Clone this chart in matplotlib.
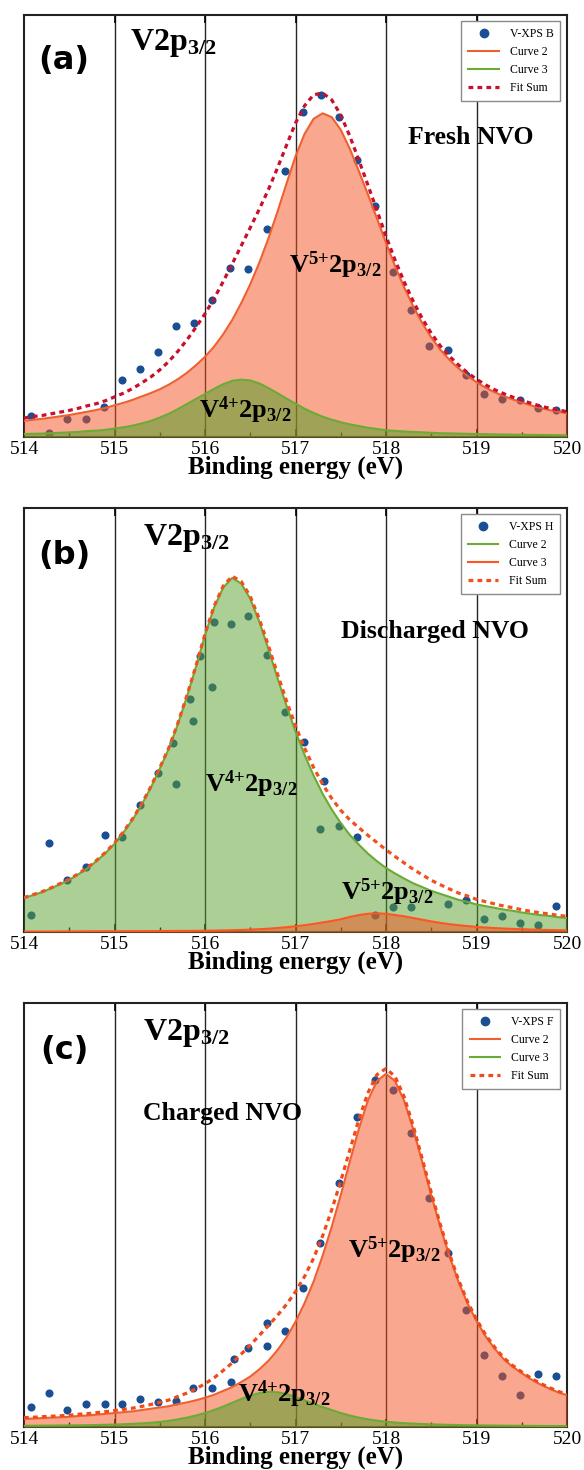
import numpy as np
import matplotlib
matplotlib.use('Agg')
import matplotlib.pyplot as plt
from matplotlib.lines import Line2D
from matplotlib.ticker import MultipleLocator

plt.rcParams['font.family'] = ['Liberation Serif', 'DejaVu Serif']
plt.rcParams['mathtext.fontset'] = 'custom'
plt.rcParams['mathtext.rm'] = 'Liberation Serif:bold'
plt.rcParams['mathtext.bf'] = 'Liberation Serif:bold'
plt.rcParams['mathtext.it'] = 'Liberation Serif:bold:italic'
plt.rcParams['mathtext.default'] = 'rm'

# ---------------- data ----------------
energy = [514.0, 514.1, 514.2, 514.3, 514.4, 514.5, 514.6, 514.7, 514.8, 514.9,
          515.0, 515.1, 515.2, 515.3, 515.4, 515.5, 515.6, 515.7, 515.8, 515.9,
          516.0, 516.1, 516.2, 516.3, 516.4, 516.5, 516.6, 516.7, 516.8, 516.9,
          517.0, 517.1, 517.2, 517.3, 517.4, 517.5, 517.6, 517.7, 517.8, 517.9,
          518.0, 518.1, 518.2, 518.3, 518.4, 518.5, 518.6, 518.7, 518.8, 518.9,
          519.0, 519.1, 519.2, 519.3, 519.4, 519.5, 519.6, 519.7, 519.8, 519.9,
          520.0]

# panel (a) Fresh NVO
a_curve2 = [0.038, 0.041, 0.043, 0.046, 0.049, 0.052, 0.056, 0.060, 0.064, 0.069,
            0.075, 0.081, 0.088, 0.096, 0.104, 0.113, 0.124, 0.137, 0.152, 0.170,
            0.190, 0.214, 0.243, 0.277, 0.317, 0.362, 0.413, 0.470, 0.533, 0.600,
            0.665, 0.718, 0.754, 0.767, 0.758, 0.728, 0.683, 0.630, 0.575, 0.518,
            0.460, 0.405, 0.355, 0.310, 0.270, 0.236, 0.207, 0.183, 0.163, 0.145,
            0.130, 0.117, 0.106, 0.097, 0.089, 0.082, 0.075, 0.069, 0.064, 0.060,
            0.056]
a_curve3 = [0.007, 0.0075, 0.008, 0.009, 0.010, 0.011, 0.012, 0.014, 0.015, 0.017,
            0.020, 0.023, 0.027, 0.032, 0.038, 0.046, 0.055, 0.066, 0.078, 0.090,
            0.102, 0.114, 0.125, 0.133, 0.136, 0.134, 0.127, 0.116, 0.104, 0.091,
            0.079, 0.067, 0.057, 0.048, 0.041, 0.035, 0.030, 0.026, 0.022, 0.019,
            0.016, 0.0145, 0.013, 0.012, 0.011, 0.010, 0.009, 0.0085, 0.008, 0.0075,
            0.007, 0.0066, 0.0062, 0.0058, 0.0055, 0.0052, 0.005, 0.0047, 0.0045, 0.0043,
            0.004]
a_px = [514.08, 514.28, 514.48, 514.68, 514.88, 515.08, 515.28, 515.48, 515.68, 515.88,
        516.08, 516.28, 516.48, 516.68, 516.88, 517.08, 517.28, 517.48, 517.68, 517.88,
        518.08, 518.28, 518.48, 518.68, 518.88, 519.08, 519.28, 519.48, 519.68, 519.88]
a_py = [0.049, 0.010, 0.043, 0.043, 0.071, 0.136, 0.160, 0.201, 0.264, 0.271,
        0.325, 0.401, 0.397, 0.494, 0.631, 0.771, 0.811, 0.759, 0.657, 0.547,
        0.390, 0.300, 0.215, 0.205, 0.146, 0.103, 0.091, 0.087, 0.069, 0.063]

# panel (b) Discharged NVO
b_curve2 = [0.080, 0.087, 0.094, 0.103, 0.113, 0.123, 0.136, 0.150, 0.167, 0.186,
            0.208, 0.235, 0.265, 0.300, 0.340, 0.385, 0.432, 0.490, 0.555, 0.625,
            0.700, 0.765, 0.812, 0.835, 0.822, 0.786, 0.732, 0.668, 0.600, 0.534,
            0.473, 0.418, 0.369, 0.326, 0.289, 0.257, 0.229, 0.206, 0.185, 0.167,
            0.151, 0.138, 0.126, 0.115, 0.106, 0.097, 0.090, 0.083, 0.076, 0.071,
            0.065, 0.061, 0.057, 0.053, 0.050, 0.046, 0.043, 0.040, 0.038, 0.035,
            0.033]
b_curve3 = [0.001, 0.001, 0.001, 0.001, 0.0012, 0.0013, 0.0014, 0.0015, 0.0016, 0.0017,
            0.0018, 0.0019, 0.002, 0.0021, 0.0022, 0.0023, 0.0024, 0.0025, 0.0026, 0.0028,
            0.003, 0.0033, 0.0037, 0.0042, 0.0048, 0.0056, 0.0066, 0.0078, 0.0094, 0.0113,
            0.0135, 0.016, 0.019, 0.0225, 0.026, 0.030, 0.0355, 0.040, 0.043, 0.044,
            0.043, 0.040, 0.037, 0.033, 0.029, 0.025, 0.0215, 0.0185, 0.016, 0.014,
            0.012, 0.0105, 0.0093, 0.0082, 0.0073, 0.0065, 0.0058, 0.0052, 0.0047, 0.0043,
            0.004]
b_px = [514.08, 514.28, 514.48, 514.68, 514.89, 515.08, 515.28, 515.48, 515.65, 515.68,
        515.83, 515.87, 515.95, 516.08, 516.10, 516.29, 516.48, 516.68, 516.88, 517.09,
        517.27, 517.32, 517.48, 517.68, 517.88, 518.08, 518.28, 518.68, 518.88, 519.08,
        519.28, 519.48, 519.68, 519.88]
b_py = [0.039, 0.209, 0.122, 0.154, 0.228, 0.224, 0.299, 0.376, 0.445, 0.350,
        0.549, 0.498, 0.652, 0.577, 0.731, 0.727, 0.746, 0.654, 0.520, 0.449,
        0.244, 0.357, 0.250, 0.223, 0.039, 0.059, 0.059, 0.065, 0.075, 0.031,
        0.038, 0.022, 0.017, 0.061]

# panel (c) Charged NVO
c_curve2 = [0.019, 0.020, 0.021, 0.022, 0.023, 0.024, 0.026, 0.027, 0.029, 0.031,
            0.033, 0.035, 0.037, 0.040, 0.043, 0.046, 0.049, 0.054, 0.058, 0.063,
            0.069, 0.076, 0.085, 0.094, 0.106, 0.119, 0.136, 0.156, 0.181, 0.211,
            0.248, 0.292, 0.343, 0.404, 0.472, 0.547, 0.626, 0.703, 0.770, 0.816,
            0.833, 0.816, 0.770, 0.703, 0.626, 0.547, 0.472, 0.404, 0.343, 0.292,
            0.250, 0.214, 0.185, 0.160, 0.142, 0.127, 0.113, 0.101, 0.091, 0.082,
            0.075]
c_curve3 = [0.003, 0.003, 0.0032, 0.0034, 0.0036, 0.0038, 0.004, 0.0043, 0.0047, 0.0052,
            0.0058, 0.0065, 0.0074, 0.0085, 0.010, 0.012, 0.0145, 0.018, 0.022, 0.027,
            0.033, 0.040, 0.048, 0.057, 0.066, 0.074, 0.080, 0.083, 0.082, 0.078,
            0.071, 0.063, 0.055, 0.047, 0.040, 0.033, 0.027, 0.022, 0.018, 0.015,
            0.0125, 0.0105, 0.009, 0.008, 0.007, 0.0062, 0.0056, 0.005, 0.0046, 0.0042,
            0.0039, 0.0036, 0.0034, 0.0032, 0.003, 0.0028, 0.0026, 0.0025, 0.0024, 0.0023,
            0.0022]
c_px = [514.08, 514.28, 514.48, 514.68, 514.89, 515.08, 515.28, 515.48, 515.68, 515.87,
        516.08, 516.29, 516.32, 516.48, 516.68, 516.68, 516.88, 517.08, 517.27, 517.48,
        517.68, 517.88, 518.08, 518.28, 518.48, 518.68, 518.88, 519.08, 519.28, 519.48,
        519.68, 519.88]
c_py = [0.047, 0.081, 0.041, 0.055, 0.054, 0.055, 0.065, 0.059, 0.061, 0.091,
        0.093, 0.106, 0.161, 0.187, 0.191, 0.246, 0.227, 0.327, 0.435, 0.575,
        0.730, 0.819, 0.795, 0.693, 0.539, 0.411, 0.277, 0.169, 0.120, 0.076,
        0.126, 0.120]

xticks = [514, 515, 516, 517, 518, 519, 520]
gridlines = [515, 516, 517, 518, 519]

# ---------------- style ----------------
DOT = '#1b4f93'
ORANGE_LINE = '#ee6030'
ORANGE_FILL = '#f4511e'
GREEN_LINE = '#6aab36'
GREEN_FILL = '#58a02a'

fig = plt.figure(figsize=(5.84, 14.7), dpi=100)
W, H = 584.0, 1470.0
boxes = [(24, 15, 567, 437), (24, 508, 567, 932), (24, 1003, 567, 1427)]

panels = [
    dict(label='(a)', px=a_px, py=a_py, c2=a_curve2, c3=a_curve3,
         c2col=(ORANGE_LINE, ORANGE_FILL, 0.5), c3col=(GREEN_LINE, GREEN_FILL, 0.55),
         sumcol='#c8102e', leg='V-XPS B', state='Fresh NVO', state_pos=(0.707, 0.694),
         v2p=(0.195, 0.918), v5=(0.488, 0.389), v4=(0.322, 0.045), lab=0.893),
    dict(label='(b)', px=b_px, py=b_py, c2=b_curve2, c3=b_curve3,
         c2col=(GREEN_LINE, GREEN_FILL, 0.5), c3col=('#ff5522', ORANGE_FILL, 0.5),
         sumcol='#f2501e', leg='V-XPS H', state='Discharged NVO', state_pos=(0.584, 0.693),
         v2p=(0.219, 0.913), v5=(0.584, 0.075), v4=(0.333, 0.33), lab=0.889),
    dict(label='(c)', px=c_px, py=c_py, c2=c_curve2, c3=c_curve3,
         c2col=(ORANGE_LINE, ORANGE_FILL, 0.5), c3col=(GREEN_LINE, GREEN_FILL, 0.55),
         sumcol='#f04a1a', leg='V-XPS F', state='Charged NVO', state_pos=(0.219, 0.724),
         v2p=(0.219, 0.913), v5=(0.597, 0.399), v4=(0.394, 0.059), lab=0.888),
]

for (x0, y0, x1, y1), p in zip(boxes, panels):
    ax = fig.add_axes([x0 / W, 1 - y1 / H, (x1 - x0) / W, (y1 - y0) / H])
    for g in gridlines:
        ax.axvline(g, color='#262626', lw=1.0, zorder=1)
    ax.scatter(p['px'], p['py'], s=34, color=DOT, linewidths=0, zorder=2)
    c2l, c2f, c2a = p['c2col']
    c3l, c3f, c3a = p['c3col']
    ax.fill_between(energy, 0, p['c2'], color=c2f, alpha=c2a, lw=0, zorder=3)
    ax.fill_between(energy, 0, p['c3'], color=c3f, alpha=c3a, lw=0, zorder=4)
    ax.plot(energy, p['c2'], color=c2l, lw=1.5, zorder=5)
    ax.plot(energy, p['c3'], color=c3l, lw=1.5, zorder=6)
    fit_sum = np.add(p['c2'], p['c3'])
    ax.plot(energy, fit_sum, color=p['sumcol'], lw=2.3, ls=(0, (1.5, 1.3)), zorder=7)

    ax.set_xlim(514, 520)
    ax.set_ylim(0, 1)
    ax.set_yticks([])
    ax.set_xticks(xticks)
    ax.set_xticklabels([str(t) for t in xticks])
    ax.xaxis.set_minor_locator(MultipleLocator(0.5))
    ax.tick_params(axis='x', which='major', direction='in', length=6, width=1.2,
                   top=True, bottom=True, labelsize=14, pad=3)
    ax.tick_params(axis='x', which='minor', direction='in', length=3.5, width=1.0,
                   top=False, bottom=True)
    for s in ax.spines.values():
        s.set_linewidth(1.5)
        s.set_color('#222222')
    ax.set_xlabel('Binding energy (eV)', fontsize=18, fontweight='bold', labelpad=-2)

    ax.text(0.074, p['lab'], p['label'], transform=ax.transAxes, ha='center', va='center',
            fontsize=23, fontweight='bold', family=['DejaVu Sans'], zorder=10)
    ax.text(p['v2p'][0], p['v2p'][1], r'V2p$_{3/2}$', transform=ax.transAxes,
            ha='left', va='baseline', fontsize=23, fontweight='bold', zorder=10)
    ax.text(p['state_pos'][0], p['state_pos'][1], p['state'], transform=ax.transAxes,
            ha='left', va='baseline', fontsize=18.5, fontweight='bold', zorder=10)
    ax.text(p['v5'][0], p['v5'][1], r'V$^{5{+}}$2p$_{3/2}$', transform=ax.transAxes,
            ha='left', va='baseline', fontsize=19, fontweight='bold', zorder=10)
    ax.text(p['v4'][0], p['v4'][1], r'V$^{4{+}}$2p$_{3/2}$', transform=ax.transAxes,
            ha='left', va='baseline', fontsize=19, fontweight='bold', zorder=10)

    handles = [
        Line2D([], [], marker='o', ls='none', color=DOT, ms=6),
        Line2D([], [], color=c2l, lw=1.5),
        Line2D([], [], color=c3l, lw=1.5),
        Line2D([], [], color=p['sumcol'], lw=2.3, ls=(0, (1.5, 1.3))),
    ]
    leg = ax.legend(handles, [p['leg'], 'Curve 2', 'Curve 3', 'Fit Sum'],
                    loc='upper right', bbox_to_anchor=(0.988, 0.985), borderaxespad=0,
                    prop={'family': 'Liberation Serif', 'size': 8.5},
                    frameon=True, fancybox=False, edgecolor='#8a8a8a', framealpha=1,
                    handlelength=2.6, labelspacing=0.5, borderpad=0.6, handletextpad=0.9)
    leg.get_frame().set_linewidth(1.0)
    leg.set_zorder(11)

fig.savefig('out.png', dpi=100)
